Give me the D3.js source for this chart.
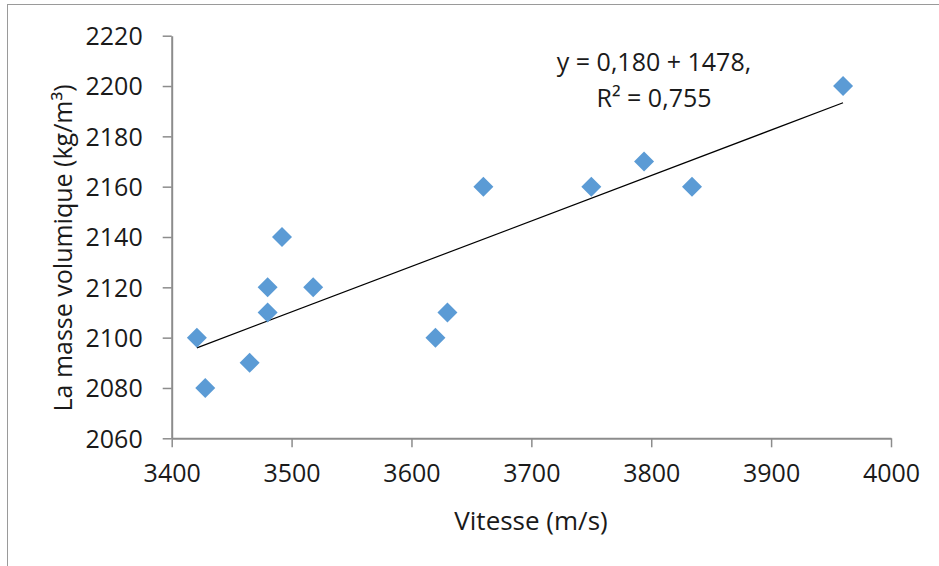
<!DOCTYPE html>
<html><head><meta charset="utf-8">
<script src="https://cdn.jsdelivr.net/npm/d3@7"></script>
<style>
html,body{margin:0;padding:0;background:#fff;}
text{font-family:"Open Sans","Noto Sans",sans-serif;fill:#1a1a1a;}
</style></head>
<body>
<svg id="c" width="939" height="566"></svg>
<script>
const vitesse = [3421, 3428, 3465, 3480, 3480, 3492, 3518, 3620, 3630, 3660, 3750, 3794, 3834, 3960];
const masse   = [2100, 2080, 2090, 2120, 2110, 2140, 2120, 2100, 2110, 2160, 2160, 2170, 2160, 2200];
const xTicks = [3400, 3500, 3600, 3700, 3800, 3900, 4000];
const yTicks = [2060, 2080, 2100, 2120, 2140, 2160, 2180, 2200, 2220];
const xTitle = "Vitesse (m/s)";
const yTitle = "La masse volumique (kg/m³)";
const eqLines = ["y = 0,180 + 1478,", "R² = 0,755"];

const svg = d3.select("#c");
svg.append("rect").attr("x",7.5).attr("y",4.5).attr("width",940).attr("height",600)
  .attr("fill","#fff").attr("stroke","#9a9a9a").attr("stroke-width",1);

const x = d3.scaleLinear().domain([3400,4000]).range([171.7,891]);
const y = d3.scaleLinear().domain([2060,2220]).range([438.3,35.7]);
const axisColor = "#8c8c8c";

const gx = svg.append("g").attr("transform",`translate(0,${y(2060)})`)
  .call(d3.axisBottom(x).tickValues(xTicks).tickSize(9).tickPadding(17).tickSizeOuter(0).tickFormat(d3.format("d")));
const gy = svg.append("g").attr("transform",`translate(${x(3400)},0)`)
  .call(d3.axisLeft(y).tickValues(yTicks).tickSize(9).tickPadding(20).tickSizeOuter(0).tickFormat(d3.format("d")));
[gx,gy].forEach(g=>{
  g.select(".domain").attr("stroke",axisColor).attr("stroke-width",2);
  g.selectAll(".tick line").attr("stroke",axisColor).attr("stroke-width",1.5);
  g.selectAll(".tick text").attr("fill","#1a1a1a").style("font-size","25px").style("font-family","'Open Sans','Noto Sans',sans-serif");
});
gy.selectAll(".tick text").attr("dy","0.35em");

// regression line
const n = vitesse.length;
const mx = d3.mean(vitesse), my = d3.mean(masse);
let sxy=0,sxx=0;
for(let i=0;i<n;i++){sxy+=(vitesse[i]-mx)*(masse[i]-my);sxx+=(vitesse[i]-mx)**2;}
const b = sxy/sxx, a = my - b*mx;
const x0 = d3.min(vitesse), x1 = d3.max(vitesse);
svg.append("line").attr("x1",x(x0)).attr("y1",y(a+b*x0)).attr("x2",x(x1)).attr("y2",y(a+b*x1))
  .attr("stroke","#000").attr("stroke-width",1.2);

// points
const sym = d3.symbol().type(d3.symbolSquare).size(200);
svg.append("g").selectAll("path").data(d3.range(n)).join("path")
  .attr("d",sym)
  .attr("transform",i=>`translate(${x(vitesse[i])},${y(masse[i])}) rotate(45)`)
  .attr("fill","#5b9bd5");

// equation
const eq = svg.append("text").attr("text-anchor","middle").style("font-size","25px");
eq.append("tspan").attr("x",654).attr("y",71).text(eqLines[0]);
eq.append("tspan").attr("x",654).attr("y",107).text(eqLines[1]);

// titles
svg.append("text").attr("x",531).attr("y",530).attr("text-anchor","middle").style("font-size","26px").text(xTitle);
svg.append("text").attr("transform","translate(72,248) rotate(-90)").attr("text-anchor","middle").style("font-size","25px").text(yTitle);
</script>
</body></html>
